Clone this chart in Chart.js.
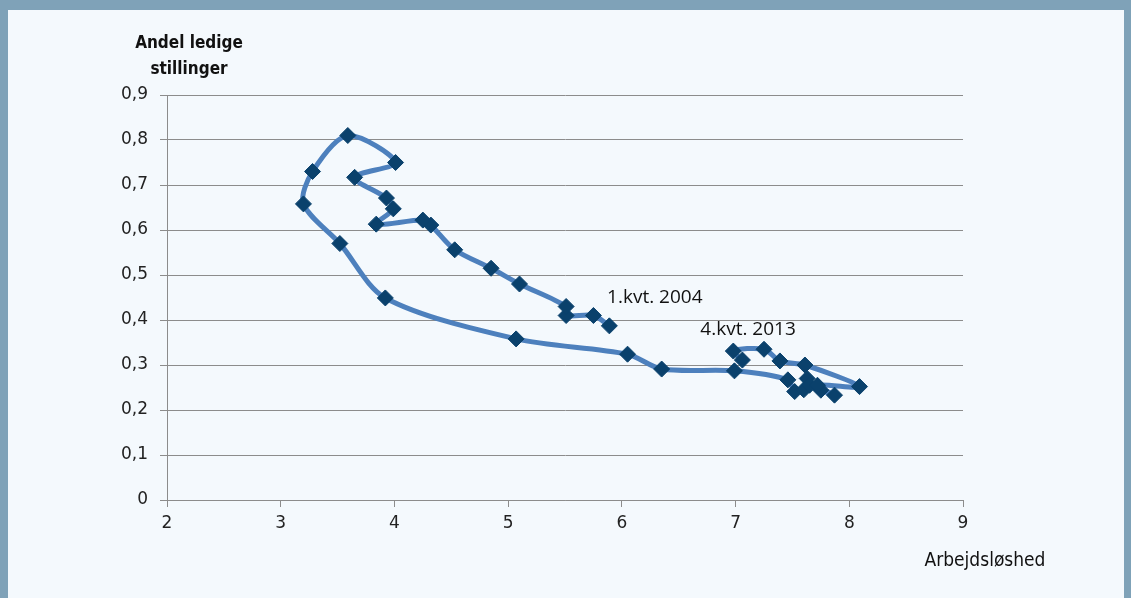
<!DOCTYPE html>
<html>
<head>
<meta charset="utf-8">
<script src="https://cdn.jsdelivr.net/npm/chart.js@4"></script>
<style>
  html, body { margin: 0; padding: 0; }
  body { width: 1131px; height: 598px; background: #7fa2b8; position: relative; overflow: hidden; }
  .panel { position: absolute; left: 8px; top: 10px; width: 1116px; height: 588px; background: #f4f9fd; }
  #wrap { position: absolute; left: 0; top: 0; width: 1131px; height: 598px; }
  .ytitle { position: absolute; left: 114px; top: 29px; width: 150px; text-align: center;
            font: bold 17px "DejaVu Sans Condensed", "DejaVu Sans", sans-serif; line-height: 26px; color: #111; }
  .xtitle { position: absolute; left: 895px; top: 548px; width: 180px; text-align: center;
            font: 19px "DejaVu Sans Condensed", "DejaVu Sans", sans-serif; color: #111; }
</style>
</head>
<body>
<div class="panel"></div>
<div id="wrap"><canvas id="beveridge" width="1131" height="598"></canvas></div>
<div class="ytitle">Andel ledige<br>stillinger</div>
<div class="xtitle">Arbejdsløshed</div>
<script>
// kvartaler 1.kvt. 2004 -> 4.kvt. 2013 (aflæst)
const unemployment = [5.89, 5.75, 5.51, 5.51, 5.10, 4.85, 4.53, 4.32, 4.25, 3.84,
  3.99, 3.93, 3.65, 4.01, 3.59, 3.28, 3.20, 3.52, 3.92, 5.07,
  6.05, 6.35, 6.99, 7.46, 7.52, 7.60, 7.63, 7.65, 7.75, 7.87,
  7.72, 8.09, 7.61, 7.39, 7.25, 6.98, 7.06];
const vacancies = [0.387, 0.410, 0.410, 0.430, 0.480, 0.515, 0.556, 0.611, 0.622, 0.613,
  0.647, 0.671, 0.717, 0.750, 0.810, 0.730, 0.658, 0.570, 0.449, 0.358,
  0.324, 0.291, 0.287, 0.267, 0.241, 0.245, 0.270, 0.255, 0.244, 0.233,
  0.255, 0.252, 0.300, 0.309, 0.335, 0.331, 0.311];

const yTicks = [0, 0.1, 0.2, 0.3, 0.4, 0.5, 0.6, 0.7, 0.8, 0.9];
const yTickLabels = ['0', '0,1', '0,2', '0,3', '0,4', '0,5', '0,6', '0,7', '0,8', '0,9'];
const xTicks = [2, 3, 4, 5, 6, 7, 8, 9];
const xTickLabels = ['2', '3', '4', '5', '6', '7', '8', '9'];

const notes = [
  {text: '1.kvt. 2004', x: 5.87, y: 0.449},
  {text: '4.kvt. 2013', x: 6.69, y: 0.378}
];

const points = unemployment.map((u, i) => ({x: u, y: vacancies[i]}));

const notePlugin = {
  id: 'notes',
  afterDatasetsDraw(chart) {
    const c = chart.ctx;
    c.save();
    c.font = '19px "Open Sans", sans-serif';
    c.fillStyle = '#111';
    c.textBaseline = 'middle';
    notes.forEach(n => {
      c.fillText(n.text, chart.scales.x.getPixelForValue(n.x), chart.scales.y.getPixelForValue(n.y));
    });
    c.restore();
  }
};

const tickFont = {family: '"DejaVu Sans", sans-serif', size: 17};

new Chart(document.getElementById('beveridge'), {
  type: 'scatter',
  data: {
    datasets: [{
      data: points,
      showLine: true,
      tension: 0.3,
      borderColor: '#4d80bd',
      borderWidth: 5,
      pointStyle: 'rectRot',
      pointRadius: 8,
      pointBackgroundColor: '#0a416c',
      pointBorderColor: '#0a416c',
      pointBorderWidth: 1
    }]
  },
  options: {
    responsive: false,
    animation: false,
    layout: {padding: {left: 0, top: 95, right: 168, bottom: 0}},
    plugins: {legend: {display: false}, tooltip: {enabled: false}},
    scales: {
      x: {
        type: 'linear',
        min: 2, max: 9,
        afterBuildTicks: s => { s.ticks = xTicks.map(v => ({value: v})); },
        afterFit: s => { s.height = 98; },
        grid: {drawOnChartArea: false, drawTicks: true, tickLength: 7, color: '#8c8c8c'},
        border: {display: true, color: '#8c8c8c', width: 1},
        ticks: {
          color: '#222', font: tickFont, padding: 6, maxRotation: 0,
          callback: (v, i) => xTickLabels[i]
        }
      },
      y: {
        min: 0, max: 0.9,
        afterBuildTicks: s => { s.ticks = yTicks.map(v => ({value: v})); },
        afterFit: s => { s.width = 167; },
        grid: {color: '#8c8c8c', lineWidth: 1, drawTicks: true, tickLength: 7},
        border: {display: true, color: '#8c8c8c', width: 1},
        ticks: {
          color: '#222', font: tickFont, padding: 12,
          callback: (v, i) => yTickLabels[i]
        }
      }
    }
  },
  plugins: [notePlugin]
});
</script>
</body>
</html>
